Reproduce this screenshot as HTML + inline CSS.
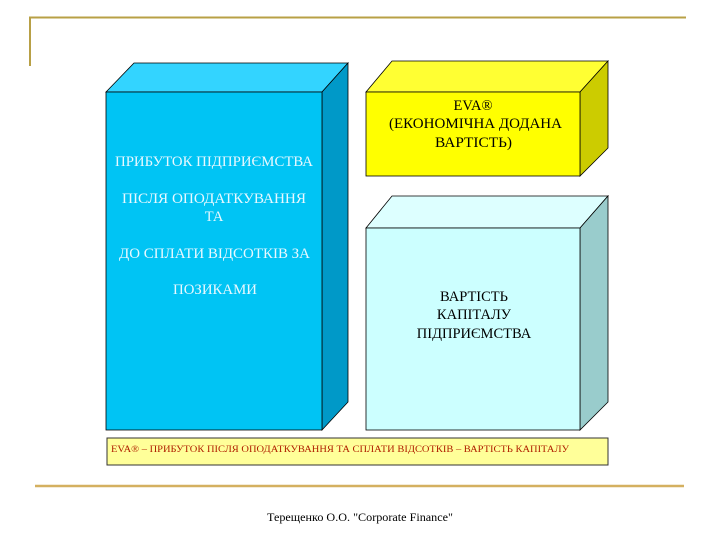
<!DOCTYPE html>
<html><head><meta charset="utf-8"><style>
html,body{margin:0;padding:0;background:#fff;}
svg{display:block;}
text{font-family:"Liberation Serif","DejaVu Serif",serif;}
</style></head><body>
<svg width="720" height="540" viewBox="0 0 720 540" xmlns="http://www.w3.org/2000/svg">
<rect width="720" height="540" fill="#fff"/>
<polyline points="30,66 30,17.5 686,17.5" fill="none" stroke="#b8a046" stroke-width="2"/>
<line x1="35" y1="486" x2="684" y2="486" stroke="#d4b060" stroke-width="2.5"/>

<polygon points="106,92 134,63 348,63 322,92" fill="#33d4ff" stroke="#000" stroke-width="0.8"/>
<polygon points="322,92 348,63 348,402 322,430" fill="#0099c8" stroke="#000" stroke-width="0.8"/>
<rect x="106" y="92" width="216" height="338" fill="#00c4f4" stroke="#000" stroke-width="0.8"/>
<g fill="#e8f8ff" font-size="14.5">
<text x="115" y="166" textLength="198" lengthAdjust="spacingAndGlyphs">ПРИБУТОК ПІДПРИЄМСТВА</text>
<text x="122" y="203" textLength="184" lengthAdjust="spacingAndGlyphs">ПІСЛЯ ОПОДАТКУВАННЯ</text>
<text x="214" y="221" text-anchor="middle">ТА</text>
<text x="119" y="258" textLength="191" lengthAdjust="spacingAndGlyphs">ДО СПЛАТИ ВІДСОТКІВ ЗА</text>
<text x="173" y="294" textLength="84" lengthAdjust="spacingAndGlyphs">ПОЗИКАМИ</text>
</g>

<polygon points="366,92 392,61 608,61 580,92" fill="#ffff33" stroke="#000" stroke-width="0.8"/>
<polygon points="580,92 608,61 608,148 580,176" fill="#cccc00" stroke="#000" stroke-width="0.8"/>
<rect x="366" y="92" width="214" height="84" fill="#ffff00" stroke="#000" stroke-width="0.8"/>
<g fill="#000" font-size="14.5">
<text x="473" y="110" text-anchor="middle">EVA®</text>
<text x="389" y="128" textLength="173" lengthAdjust="spacingAndGlyphs">(ЕКОНОМІЧНА ДОДАНА</text>
<text x="435" y="147" textLength="77" lengthAdjust="spacingAndGlyphs">ВАРТІСТЬ)</text>
</g>

<polygon points="366,228 392,196 608,196 580,228" fill="#ddffff" stroke="#000" stroke-width="0.8"/>
<polygon points="580,228 608,196 608,402 580,430" fill="#99cccc" stroke="#000" stroke-width="0.8"/>
<rect x="366" y="228" width="214" height="202" fill="#ccffff" stroke="#000" stroke-width="0.8"/>
<g fill="#000" font-size="14.5" text-anchor="middle">
<text x="474" y="301">ВАРТІСТЬ</text>
<text x="474" y="319">КАПІТАЛУ</text>
<text x="474" y="338">ПІДПРИЄМСТВА</text>
</g>

<rect x="107" y="438" width="501" height="27" fill="#ffff99" stroke="#333" stroke-width="1"/>
<text x="111" y="452" font-size="9.5" fill="#b02000" textLength="458" lengthAdjust="spacingAndGlyphs">EVA® – ПРИБУТОК ПІСЛЯ ОПОДАТКУВАННЯ ТА СПЛАТИ ВІДСОТКІВ – ВАРТІСТЬ КАПІТАЛУ</text>

<text x="267" y="521" font-size="12" fill="#000" textLength="186" lengthAdjust="spacingAndGlyphs">Терещенко О.О.  "Corporate Finance"</text>
</svg>
</body></html>
